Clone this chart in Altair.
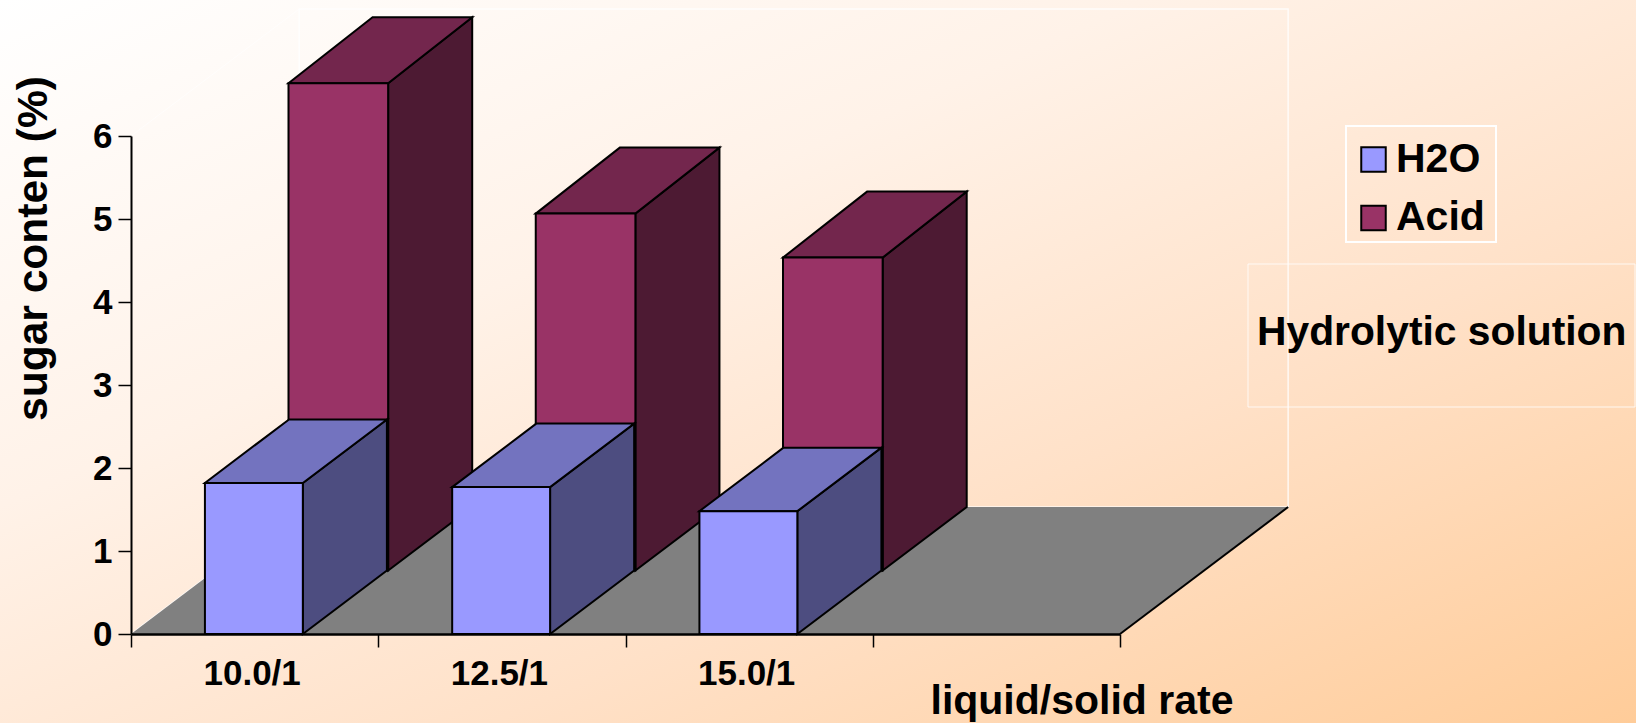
import altair as alt
import pandas as pd

# Values read per liquid/solid ratio
categories = ["10.0/1", "12.5/1", "15.0/1"]
h2o_values = [1.82, 1.77, 1.48]
acid_values = [5.87, 4.30, 3.77]
y_ticks = [0, 1, 2, 3, 4, 5, 6]
x_ticks = [0, 1, 2, 3, 4]

FONT = "Liberation Sans"

# Oblique depth of one series row, in axis units
DEPTH_X = 0.34
DEPTH_Y = 0.765
ACID_TOP_RISE = 0.795

x_scale = alt.Scale(domain=[0, 4], nice=False, zero=False)
y_scale = alt.Scale(domain=[0, 6], nice=False, zero=False)

y_axis = alt.Axis(
    values=y_ticks,
    format="d",
    grid=False,
    zindex=1,
    domainColor="black",
    domainWidth=2,
    tickColor="black",
    tickWidth=1.5,
    tickSize=13,
    labelPadding=6,
    labelFont=FONT,
    labelFontSize=35,
    labelFontWeight="bold",
    labelColor="black",
    titleFont=FONT,
    titleFontSize=42.5,
    titleFontWeight="bold",
    titleColor="black",
    titleAngle=270,
    titleAlign="center",
    titleBaseline="alphabetic",
    titleX=-85,
    titleY=112,
)
x_axis = alt.Axis(
    values=x_ticks,
    labels=False,
    grid=False,
    zindex=1,
    domainColor="black",
    domainWidth=2.5,
    tickColor="black",
    tickWidth=1.5,
    tickSize=13,
    titleFont=FONT,
    titleFontSize=41,
    titleFontWeight="bold",
    titleColor="black",
    titleAlign="left",
    titleBaseline="alphabetic",
    titleX=799,
    titleY=79,
)


def X(field="x"):
    return alt.X(f"{field}:Q", scale=x_scale, axis=x_axis, title="liquid/solid rate")


def Y(field="y"):
    return alt.Y(f"{field}:Q", scale=y_scale, axis=y_axis, title="sugar conten (%)")


def build_faces(values, left, width, base, rise):
    """Return front, side and top face tables for one row of 3D bars."""
    front, side, top = [], [], []
    for i, v in enumerate(values):
        xl, xr = i + left, i + left + width
        t = base + v
        front.append({"x": xl, "x2": xr, "y": t, "y2": base})
        side.append({"b": i, "x": xr, "y": t, "y2": base})
        side.append({"b": i, "x": xr + DEPTH_X, "y": t + rise, "y2": base + DEPTH_Y})
        top.append({"b": i, "y": t, "x": xl, "x2": xr})
        top.append({"b": i, "y": t + rise, "x": xl + DEPTH_X, "x2": xr + DEPTH_X})
    return pd.DataFrame(front), pd.DataFrame(side), pd.DataFrame(top)


def bar_layers(values, series, left, width, base, rise, side_color, top_color):
    front, side, top = build_faces(values, left, width, base, rise)
    front["series"] = series
    side_mark = alt.Chart(side).mark_area(
        orient="vertical", fill=side_color, stroke="black", strokeWidth=2
    ).encode(x=X(), y=Y(), y2=alt.Y2("y2:Q"), detail="b:N")
    top_mark = alt.Chart(top).mark_area(
        orient="horizontal", fill=top_color, stroke="black", strokeWidth=2
    ).encode(y=Y(), x=X(), x2=alt.X2("x2:Q"), detail="b:N")
    front_mark = alt.Chart(front).mark_rect(stroke="black", strokeWidth=2).encode(
        x=X(),
        x2=alt.X2("x2:Q"),
        y=Y(),
        y2=alt.Y2("y2:Q"),
        fill=alt.Fill(
            "series:N",
            scale=alt.Scale(domain=["H2O", "Acid"], range=["#9999FF", "#993366"]),
            legend=alt.Legend(
                title=None,
                orient="none",
                legendX=1215,
                legendY=-4,
                padding=7,
                symbolType="square",
                symbolSize=600,
                symbolStrokeColor="black",
                symbolStrokeWidth=2,
                symbolOpacity=1,
                labelFont=FONT,
                labelFontSize=41,
                labelFontWeight="bold",
                labelColor="black",
                labelOffset=2,
                rowPadding=16.5,
                labelLimit=200,
            ),
        ),
    )
    return [side_mark, top_mark, front_mark]


# Page background
background = alt.Chart(pd.DataFrame({"a": [0]})).mark_rect(
    fill=alt.Gradient(
        gradient="linear",
        x1=0,
        y1=0,
        x2=1,
        y2=1,
        stops=[
            alt.GradientStop(color="#FFFFFF", offset=0),
            alt.GradientStop(color="#FFF2E8", offset=0.35),
            alt.GradientStop(color="#FFE1C8", offset=0.65),
            alt.GradientStop(color="#FFCC99", offset=1),
        ],
    )
).encode(
    x=alt.value(-131), x2=alt.value(1505), y=alt.value(-136), y2=alt.value(587)
)

# Floor and walls
floor_rise_x = 2 * DEPTH_X
floor_rise_y = 2 * DEPTH_Y
floor_df = pd.DataFrame(
    [
        {"y": 0, "x": 0, "x2": 4},
        {"y": floor_rise_y, "x": floor_rise_x, "x2": 4 + floor_rise_x},
    ]
)
floor = alt.Chart(floor_df).mark_area(orient="horizontal", fill="#808080").encode(
    y=Y(), x=X(), x2=alt.X2("x2:Q")
)

wall_top = 6 + floor_rise_y
wall = alt.Chart(
    pd.DataFrame(
        [{"x": floor_rise_x, "x2": 4 + floor_rise_x, "y": floor_rise_y, "y2": wall_top}]
    )
).mark_rect(fill="transparent", stroke="white", strokeWidth=1.5, strokeOpacity=0.8).encode(
    x=X(), x2=alt.X2("x2:Q"), y=Y(), y2=alt.Y2("y2:Q")
)


def edge(x0, y0, x1, y1, color, width, opacity=1.0):
    return alt.Chart(pd.DataFrame([{"x": x0, "y": y0}, {"x": x1, "y": y1}])).mark_line(
        color=color, strokeWidth=width, opacity=opacity
    ).encode(x=X(), y=Y())


wall_edge_top = edge(0, 6, floor_rise_x, wall_top, "white", 1, 0.6)
wall_edge_floor = edge(0, 0, floor_rise_x, floor_rise_y, "white", 1.5, 0.9)
floor_right = edge(4, 0, 4 + floor_rise_x, floor_rise_y, "black", 2)

# Acid row sits behind the H2O row
acid = bar_layers(acid_values, "Acid", 0.637, 0.403, DEPTH_Y, ACID_TOP_RISE, "#4D1A33", "#73264D")
h2o = bar_layers(h2o_values, "H2O", 0.299, 0.396, 0, DEPTH_Y, "#4D4D80", "#7373BF")

# Category labels under the first row of bars
cat_df = pd.DataFrame(
    {"x": [i + 0.49 for i in range(len(categories))], "label": categories, "y": -0.61}
)
cat_labels = alt.Chart(cat_df).mark_text(
    font=FONT, fontSize=35, fontWeight="bold", color="black", align="center", baseline="alphabetic"
).encode(x=X(), y=Y(), text="label:N")

# Outline around the legend
legend_box = alt.Chart(pd.DataFrame({"a": [0]})).mark_rect(
    fill="transparent", stroke="white", strokeWidth=2
).encode(x=alt.value(1215), x2=alt.value(1365), y=alt.value(-10), y2=alt.value(106))

# Annotation box beside the legend
note_box = alt.Chart(pd.DataFrame({"a": [0]})).mark_rect(
    fill="transparent", stroke="white", strokeWidth=1, strokeOpacity=0.8
).encode(x=alt.value(1117), x2=alt.value(1504), y=alt.value(128), y2=alt.value(271))
note_text = alt.Chart(pd.DataFrame({"t": ["Hydrolytic solution"]})).mark_text(
    font=FONT, fontSize=40.8, fontWeight="bold", color="black", align="left", baseline="alphabetic"
).encode(x=alt.value(1126), y=alt.value(209), text="t:N")

chart = alt.layer(
    background,
    wall,
    wall_edge_top,
    wall_edge_floor,
    floor,
    floor_right,
    *acid,
    *h2o,
    cat_labels,
    legend_box,
    note_box,
    note_text,
).properties(
    width=989,
    height=498,
    padding={"left": 131, "top": 136, "right": 516, "bottom": 89},
    autosize=alt.AutoSizeParams(type="none"),
).configure_view(stroke=None)

chart.save("out.html", embed_options={"renderer": "svg", "actions": False})
